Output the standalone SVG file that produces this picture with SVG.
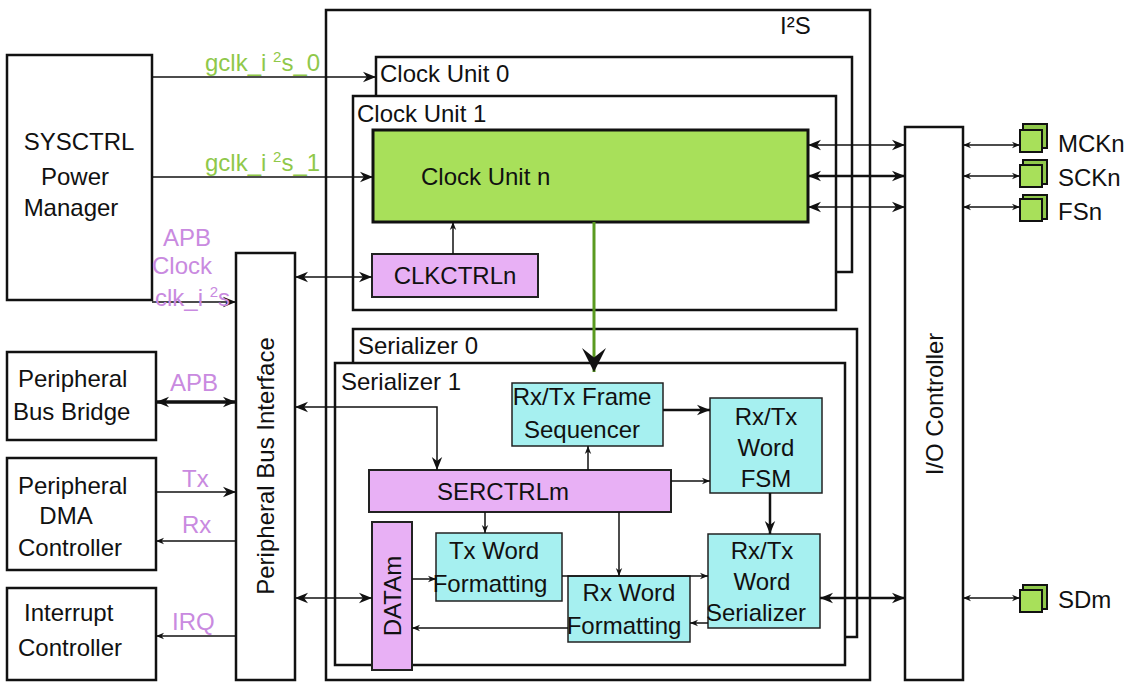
<svg xmlns="http://www.w3.org/2000/svg" width="1137" height="695" viewBox="0 0 1137 695">
<style>
text{font-family:"Liberation Sans",Arial,sans-serif;font-size:24px;fill:#111}
.b{fill:#fff;stroke:#111;stroke-width:2.5}
.g{fill:#a8e05a;stroke:#111;stroke-width:3}
.p{fill:#e8b0f5;stroke:#222;stroke-width:2}
.c{fill:#a6f0f0;stroke:#222;stroke-width:1.5}
.gl{fill:#8fc84a}
.pl{fill:#c98ae0}
.l{stroke:#111;stroke-width:1.5;fill:none}
.t{stroke:#111;stroke-width:2.5;fill:none}
</style>
<defs>
<marker id="a" viewBox="0 0 10 10" refX="10" refY="5" markerWidth="8" markerHeight="8" orient="auto-start-reverse" markerUnits="userSpaceOnUse"><path d="M0,1 L10,5 L0,9 L3,5z" fill="#111"/></marker>
<marker id="A" viewBox="0 0 10 10" refX="10" refY="5" markerWidth="13" markerHeight="13" orient="auto-start-reverse" markerUnits="userSpaceOnUse"><path d="M0,1 L10,5 L0,9 L3,5z" fill="#111"/></marker>
<marker id="G" viewBox="0 0 10 10" refX="10" refY="5" markerWidth="24" markerHeight="24" orient="auto" markerUnits="userSpaceOnUse"><path d="M0,0 L10,5 L0,10 L4,5z" fill="#111"/></marker>
</defs>
<g id="i2s"><rect class="b" x="326" y="10" width="544" height="670"/><text x="780" y="34">I²S</text></g>
<g id="cu0"><rect class="b" x="376" y="57" width="476" height="215"/><text x="380" y="82">Clock  Unit 0</text></g>
<g id="cu1"><rect class="b" x="353" y="96" width="483" height="214"/><text x="357" y="122">Clock  Unit 1</text></g>
<g id="cun"><rect class="g" x="373" y="130" width="435" height="92"/><text x="421" y="185">Clock  Unit n</text></g>
<g id="clkctrl"><rect class="p" x="372" y="254" width="166" height="43"/><text x="455" y="284" text-anchor="middle">CLKCTRLn</text></g>
<g id="ser0"><rect class="b" x="353" y="329" width="504" height="308"/><text x="358" y="354">Serializer 0</text></g>
<g id="ser1"><rect class="b" x="335" y="363" width="510" height="302"/><text x="341" y="390">Serializer 1</text></g>
<g id="syscrtl"><rect class="b" x="7" y="55" width="145" height="245"/><text x="79" y="150" text-anchor="middle">SYSCTRL</text><text x="75" y="185" text-anchor="middle">Power</text><text x="71" y="216" text-anchor="middle">Manager</text></g>
<g id="pbb"><rect class="b" x="7" y="352" width="149" height="88"/><text x="18" y="387">Peripheral</text><text x="13" y="420">Bus Bridge</text></g>
<g id="dma"><rect class="b" x="7" y="458" width="149" height="112"/><text x="18" y="494">Peripheral</text><text x="66" y="524" text-anchor="middle">DMA</text><text x="18" y="556">Controller</text></g>
<g id="irq"><rect class="b" x="7" y="588" width="149" height="92"/><text x="24" y="621">Interrupt</text><text x="18" y="656">Controller</text></g>
<g id="pbi"><rect class="b" x="236" y="253" width="59" height="427"/><text transform="translate(274,466) rotate(-90)" text-anchor="middle">Peripheral Bus Interface</text></g>
<g id="io"><rect class="b" x="905" y="127" width="58" height="553"/><text transform="translate(943,404) rotate(-90)" text-anchor="middle">I/O  Controller</text></g>
<g id="seq"><rect class="c" x="512" y="383" width="151" height="63"/><text x="582" y="405" text-anchor="middle">Rx/Tx Frame</text><text x="582" y="438" text-anchor="middle">Sequencer</text></g>
<g id="fsm"><rect class="c" x="710" y="398" width="112" height="95"/><text x="766" y="425" text-anchor="middle">Rx/Tx</text><text x="766" y="456" text-anchor="middle">Word</text><text x="766" y="487" text-anchor="middle">FSM</text></g>
<g id="serctrl"><rect class="p" x="369" y="470" width="302" height="42"/><text x="503" y="500" text-anchor="middle">SERCTRLm</text></g>
<g id="datam"><rect class="p" x="372" y="522" width="40" height="148"/><text transform="translate(401,596) rotate(-90)" text-anchor="middle">DATAm</text></g>
<g id="txf"><rect class="c" x="436" y="533" width="126" height="68"/><text x="494" y="559" text-anchor="middle">Tx Word</text><text x="490" y="592" text-anchor="middle">Formatting</text></g>
<g id="rxf"><rect class="c" x="568" y="576" width="122" height="66"/><text x="629" y="601" text-anchor="middle">Rx Word</text><text x="624" y="634" text-anchor="middle">Formatting</text></g>
<g id="wser"><rect class="c" x="708" y="534" width="112" height="94"/><text x="762" y="559" text-anchor="middle">Rx/Tx</text><text x="762" y="590" text-anchor="middle">Word</text><text x="756" y="621" text-anchor="middle">Serializer</text></g>
<g id="pins">
<rect x="1023" y="124" width="24" height="24" fill="#8fc84a" stroke="#111" stroke-width="2"/><rect x="1020" y="130" width="22" height="22" fill="#a8e05a" stroke="#111" stroke-width="2"/><text x="1058" y="152">MCKn</text>
<rect x="1023" y="160" width="24" height="24" fill="#8fc84a" stroke="#111" stroke-width="2"/><rect x="1020" y="165" width="22" height="22" fill="#a8e05a" stroke="#111" stroke-width="2"/><text x="1058" y="186">SCKn</text>
<rect x="1023" y="195" width="24" height="24" fill="#8fc84a" stroke="#111" stroke-width="2"/><rect x="1020" y="199" width="22" height="22" fill="#a8e05a" stroke="#111" stroke-width="2"/><text x="1058" y="220">FSn</text>
<rect x="1023" y="585" width="24" height="24" fill="#8fc84a" stroke="#111" stroke-width="2"/><rect x="1020" y="590" width="22" height="22" fill="#a8e05a" stroke="#111" stroke-width="2"/><text x="1058" y="608">SDm</text>
</g>
<g id="connectors">
<path class="l" d="M152,77H376" marker-end="url(#A)"/>
<path class="l" d="M152,177H373" stroke="#2a4a10" marker-end="url(#A)"/>
<path class="l" d="M152,302H236" marker-end="url(#A)"/>
<path class="l" d="M295,277H372" marker-start="url(#A)" marker-end="url(#A)"/>
<path class="l" d="M453,254V222" marker-end="url(#a)"/>
<path d="M594,222V372" stroke="#5a9a20" stroke-width="3" fill="none" marker-end="url(#G)"/>
<path class="l" d="M808,145H905" marker-start="url(#A)" marker-end="url(#A)"/>
<path class="t" d="M808,176H905" marker-start="url(#A)" marker-end="url(#A)"/>
<path class="l" d="M808,207H905" marker-start="url(#A)" marker-end="url(#A)"/>
<path class="l" d="M963,145H1020" stroke-width="1" marker-start="url(#a)" marker-end="url(#a)"/>
<path class="l" d="M963,176H1020" stroke-width="1" marker-start="url(#a)" marker-end="url(#a)"/>
<path class="l" d="M963,207H1020" stroke-width="1" marker-start="url(#a)" marker-end="url(#a)"/>
<path class="l" d="M963,598H1020" stroke-width="1" marker-start="url(#a)" marker-end="url(#a)"/>
<path class="t" d="M820,598H905" marker-start="url(#A)" marker-end="url(#A)"/>
<path class="l" d="M295,407H437V470" marker-start="url(#A)" marker-end="url(#A)"/>
<path d="M156,402H236" stroke="#111" stroke-width="3.5" fill="none" marker-start="url(#A)" marker-end="url(#A)"/>
<path class="l" d="M156,492H236" marker-end="url(#A)"/>
<path class="l" d="M236,541H156" stroke-width="1" marker-end="url(#a)"/>
<path class="l" d="M236,636H156" stroke-width="1" marker-end="url(#a)"/>
<path class="l" d="M295,598H372" marker-start="url(#A)" marker-end="url(#A)"/>
<path class="t" d="M663,410H710" marker-end="url(#A)"/>
<path class="l" d="M588,470V446" stroke-width="1" marker-end="url(#a)"/>
<path class="l" d="M671,481H710" stroke-width="1" marker-end="url(#a)"/>
<path class="t" d="M770,493V534" marker-end="url(#A)"/>
<path class="l" d="M485,512V533" stroke-width="1" marker-end="url(#a)"/>
<path class="l" d="M619,512V576" stroke-width="1" marker-end="url(#a)"/>
<path class="l" d="M412,579H436" stroke-width="1" marker-end="url(#a)"/>
<path class="l" d="M562,576H708" stroke-width="1" marker-end="url(#a)"/>
<path class="l" d="M708,623H690" stroke-width="1" marker-end="url(#a)"/>
<path class="l" d="M568,628H412" stroke-width="1" marker-end="url(#a)"/>
</g>
<g id="labels">
<text class="gl" x="205" y="71">gclk_i <tspan font-size="15" dy="-9">2</tspan><tspan dy="9">s_0</tspan></text>
<text class="gl" x="205" y="171">gclk_i <tspan font-size="15" dy="-9">2</tspan><tspan dy="9">s_1</tspan></text>
<text class="pl" x="163" y="246">APB</text>
<text class="pl" x="152" y="274">Clock</text>
<text class="pl" x="155" y="306">clk_i <tspan font-size="15" dy="-9">2</tspan><tspan dy="9">s</tspan></text>
<text class="pl" x="170" y="391">APB</text>
<text class="pl" x="182" y="487">Tx</text>
<text class="pl" x="182" y="533">Rx</text>
<text class="pl" x="172" y="630">IRQ</text>
</g>
</svg>
